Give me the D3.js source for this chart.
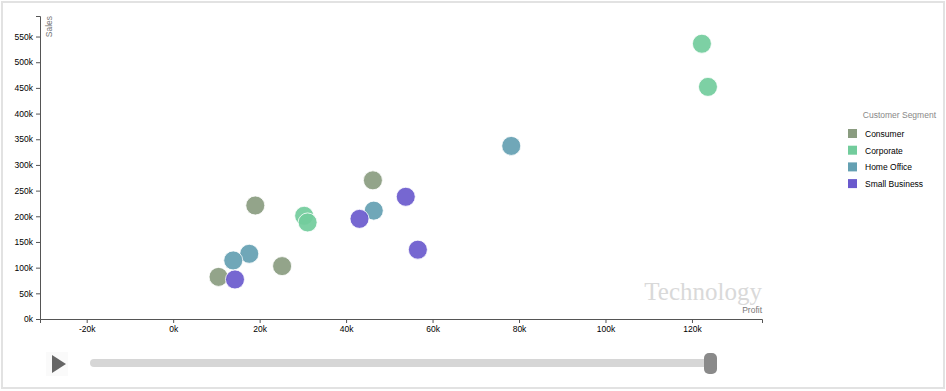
<!DOCTYPE html>
<meta charset="utf-8">
<head>
<script src="https://d3js.org/d3.v7.min.js"></script>
<style>
  body { margin: 0; background: #fff; }
  .axis text { font-family: Arial, "Liberation Sans", sans-serif; font-size: 8.5px; fill: #000; }
  .axis path, .axis line { stroke: #555; }
  .legend text { font-family: Arial, "Liberation Sans", sans-serif; font-size: 8.5px; }
</style>
</head>
<body>
<div id="chart"></div>
<script>
// data: profit (k) and sales (k) per customer segment, Technology category
var segments = ["Consumer", "Corporate", "Home Office", "Small Business"];
var colors = ["#8a9c80", "#72cc9c", "#64a0b2", "#6a5acd"];
var consumerProfit = [46.2, 19.0, 25.2, 10.5];
var consumerSales = [270, 221, 103, 82];
var corporateProfit = [122.3, 123.7, 30.3, 31.1];
var corporateSales = [536, 452, 201, 188];
var homeOfficeProfit = [78.2, 46.4, 17.6, 13.9];
var homeOfficeSales = [337, 211, 127, 114];
var smallBizProfit = [53.8, 43.1, 56.6, 14.3];
var smallBizSales = [238, 195, 135, 77];
var xTicks = [-20, 0, 20, 40, 60, 80, 100, 120];
var yTicks = [0, 50, 100, 150, 200, 250, 300, 350, 400, 450, 500, 550];

var W = 946, H = 391;
var svg = d3.select("#chart").append("svg").attr("width", W).attr("height", H);

// outer frame
svg.append("rect").attr("x", 2).attr("y", 2).attr("width", W - 4).attr("height", H - 5)
  .attr("fill", "none").attr("stroke", "#e2e2e2").attr("stroke-width", 2);

var x = d3.scaleLinear().domain([-30.8, 136.2]).range([40, 762]);
var y = d3.scaleLinear().domain([0, 590]).range([319, 16]);

var xAxis = svg.append("g").attr("class", "axis").attr("transform", "translate(0,319)")
  .call(d3.axisBottom(x).tickValues(xTicks).tickSize(4).tickSizeOuter(4)
    .tickFormat(function (d) { return d + "k"; }));
var yAxis = svg.append("g").attr("class", "axis").attr("transform", "translate(40,0)")
  .call(d3.axisLeft(y).tickValues(yTicks).tickSize(4).tickSizeOuter(4)
    .tickFormat(function (d) { return d + "k"; }));

// axis titles
svg.append("text").attr("transform", "translate(52,16) rotate(-90)")
  .attr("text-anchor", "end").attr("font-family", "Arial, sans-serif")
  .attr("font-size", "8.5px").attr("fill", "#777").text("Sales");
svg.append("text").attr("x", 762).attr("y", 313).attr("text-anchor", "end")
  .attr("font-family", "Arial, sans-serif").attr("font-size", "8.5px")
  .attr("fill", "#777").text("Profit");

// category watermark
svg.append("text").attr("x", 762).attr("y", 300).attr("text-anchor", "end")
  .attr("font-family", "'Liberation Serif', 'DejaVu Serif', serif").attr("font-size", "25px")
  .attr("fill", "#d9d9d9").text("Technology");

// points
var series = [
  [consumerProfit, consumerSales],
  [corporateProfit, corporateSales],
  [homeOfficeProfit, homeOfficeSales],
  [smallBizProfit, smallBizSales]
];
var points = [];
series.forEach(function (s, i) {
  s[0].forEach(function (p, j) {
    points.push({ seg: segments[i], color: colors[i], profit: p, sales: s[1][j] });
  });
});

svg.append("g").selectAll("circle").data(points).enter().append("circle")
  .attr("cx", function (d) { return x(d.profit); })
  .attr("cy", function (d) { return y(d.sales); })
  .attr("r", 9.5)
  .attr("fill", function (d) { return d.color; })
  .attr("fill-opacity", 0.92)
  .attr("stroke", "#fff").attr("stroke-width", 0.8);

// legend
var legend = svg.append("g").attr("class", "legend");
legend.append("text").attr("x", 936).attr("y", 118).attr("text-anchor", "end")
  .attr("fill", "#888").text("Customer Segment");
var li = legend.selectAll(".li").data(segments).enter().append("g")
  .attr("transform", function (d, i) { return "translate(848," + (129 + i * 16.7) + ")"; });
li.append("rect").attr("width", 9).attr("height", 9)
  .attr("fill", function (d, i) { return colors[i]; });
li.append("text").attr("x", 17).attr("y", 8).attr("fill", "#000").text(function (d) { return d; });

// slider / play control
svg.append("rect").attr("x", 46).attr("y", 352).attr("width", 22).attr("height", 24).attr("fill", "#fafafa");
svg.append("path").attr("d", "M52,355 L66,364 L52,373 Z").attr("fill", "#666");
svg.append("rect").attr("x", 90).attr("y", 359).attr("width", 624).attr("height", 8)
  .attr("rx", 4).attr("fill", "#d6d6d6");
svg.append("rect").attr("x", 704).attr("y", 353).attr("width", 13).attr("height", 21)
  .attr("rx", 5).attr("fill", "#8a8a8a");
</script>
</body>
